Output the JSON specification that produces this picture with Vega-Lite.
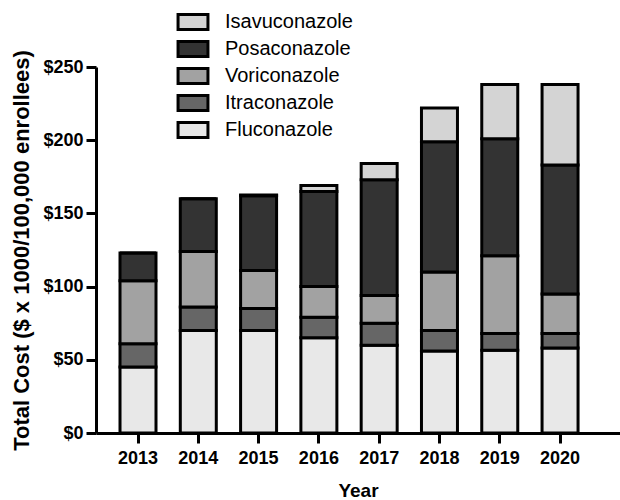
{
  "$schema": "https://vega.github.io/schema/vega-lite/v6.json",
  "autosize": {"type": "none"},
  "width": 524,
  "height": 366,
  "padding": {"left": 96, "top": 67, "right": 0, "bottom": 67},
  "background": "white",
  "config": {
    "view": {"stroke": null},
    "font": "Liberation Sans"
  },
  "datasets": {
    "drugs": [
      {"drug": "Fluconazole", "stackOrder": 1},
      {"drug": "Itraconazole", "stackOrder": 2},
      {"drug": "Voriconazole", "stackOrder": 3},
      {"drug": "Posaconazole", "stackOrder": 4},
      {"drug": "Isavuconazole", "stackOrder": 5}
    ]
  },
  "data": {
    "values": [
      {"year": "2013", "drug": "Fluconazole", "cost": 45},
      {"year": "2013", "drug": "Itraconazole", "cost": 16},
      {"year": "2013", "drug": "Voriconazole", "cost": 43},
      {"year": "2013", "drug": "Posaconazole", "cost": 19},
      {"year": "2013", "drug": "Isavuconazole", "cost": 0},
      {"year": "2014", "drug": "Fluconazole", "cost": 70},
      {"year": "2014", "drug": "Itraconazole", "cost": 16},
      {"year": "2014", "drug": "Voriconazole", "cost": 38},
      {"year": "2014", "drug": "Posaconazole", "cost": 36},
      {"year": "2014", "drug": "Isavuconazole", "cost": 0},
      {"year": "2015", "drug": "Fluconazole", "cost": 70},
      {"year": "2015", "drug": "Itraconazole", "cost": 15},
      {"year": "2015", "drug": "Voriconazole", "cost": 26},
      {"year": "2015", "drug": "Posaconazole", "cost": 51},
      {"year": "2015", "drug": "Isavuconazole", "cost": 0.5},
      {"year": "2016", "drug": "Fluconazole", "cost": 65},
      {"year": "2016", "drug": "Itraconazole", "cost": 14},
      {"year": "2016", "drug": "Voriconazole", "cost": 21},
      {"year": "2016", "drug": "Posaconazole", "cost": 65},
      {"year": "2016", "drug": "Isavuconazole", "cost": 4},
      {"year": "2017", "drug": "Fluconazole", "cost": 60},
      {"year": "2017", "drug": "Itraconazole", "cost": 15},
      {"year": "2017", "drug": "Voriconazole", "cost": 19},
      {"year": "2017", "drug": "Posaconazole", "cost": 79},
      {"year": "2017", "drug": "Isavuconazole", "cost": 11},
      {"year": "2018", "drug": "Fluconazole", "cost": 56},
      {"year": "2018", "drug": "Itraconazole", "cost": 14},
      {"year": "2018", "drug": "Voriconazole", "cost": 40},
      {"year": "2018", "drug": "Posaconazole", "cost": 89},
      {"year": "2018", "drug": "Isavuconazole", "cost": 23},
      {"year": "2019", "drug": "Fluconazole", "cost": 56.5},
      {"year": "2019", "drug": "Itraconazole", "cost": 11.5},
      {"year": "2019", "drug": "Voriconazole", "cost": 53},
      {"year": "2019", "drug": "Posaconazole", "cost": 80},
      {"year": "2019", "drug": "Isavuconazole", "cost": 37},
      {"year": "2020", "drug": "Fluconazole", "cost": 58},
      {"year": "2020", "drug": "Itraconazole", "cost": 10},
      {"year": "2020", "drug": "Voriconazole", "cost": 27},
      {"year": "2020", "drug": "Posaconazole", "cost": 88},
      {"year": "2020", "drug": "Isavuconazole", "cost": 55}
    ]
  },
  "transform": [
    {"lookup": "drug", "from": {"data": {"name": "drugs"}, "key": "drug", "fields": ["stackOrder"]}}
  ],
  "mark": {"type": "bar", "stroke": "black", "strokeWidth": 3, "strokeJoin": "miter"},
  "encoding": {
    "x": {
      "field": "year",
      "type": "ordinal",
      "scale": {"paddingInner": 0.403, "paddingOuter": 0.547, "align": 0.364},
      "axis": {
        "title": "Year",
        "labelAngle": 0,
        "labelFont": "Liberation Sans",
        "labelFontSize": 18,
        "labelFontWeight": "bold",
        "labelColor": "black",
        "labelPadding": 6,
        "titleFont": "Liberation Sans",
        "titleFontSize": 19,
        "titleFontWeight": "bold",
        "titleColor": "black",
        "titlePadding": 14,
        "domainColor": "black",
        "domainWidth": 3,
        "tickColor": "black",
        "tickWidth": 3,
        "tickSize": 10
      }
    },
    "y": {
      "field": "cost",
      "type": "quantitative",
      "stack": "zero",
      "scale": {"domain": [0, 250], "nice": false},
      "axis": {
        "title": "Total Cost ($ x 1000/100,000 enrollees)",
        "values": [0, 50, 100, 150, 200, 250],
        "format": "$.0f",
        "grid": false,
        "labelFont": "Liberation Sans",
        "labelFontSize": 18,
        "labelFontWeight": "bold",
        "labelColor": "black",
        "labelPadding": 3,
        "titleFont": "Liberation Sans",
        "titleFontSize": 22,
        "titleFontWeight": "bold",
        "titleColor": "black",
        "titlePadding": 9,
        "domainColor": "black",
        "domainWidth": 3,
        "tickColor": "black",
        "tickWidth": 3,
        "tickSize": 10
      }
    },
    "order": {"field": "stackOrder", "type": "quantitative", "sort": "ascending"},
    "color": {
      "field": "drug",
      "type": "nominal",
      "scale": {
        "domain": ["Fluconazole", "Itraconazole", "Voriconazole", "Posaconazole", "Isavuconazole"],
        "range": ["#e8e8e8", "#666666", "#a2a2a2", "#333333", "#d4d4d4"]
      },
      "legend": {
        "title": null,
        "orient": "none",
        "legendX": 84,
        "legendY": -58,
        "padding": 0,
        "values": ["Isavuconazole", "Posaconazole", "Voriconazole", "Itraconazole", "Fluconazole"],
        "symbolType": "M-1.3,-0.65H1.3V0.65H-1.3Z",
        "symbolSize": 529,
        "symbolStrokeColor": "black",
        "symbolStrokeWidth": 3,
        "symbolOpacity": 1,
        "rowPadding": -3,
        "labelFont": "Liberation Sans",
        "labelFontSize": 20,
        "labelColor": "black",
        "labelOffset": 19,
        "labelLimit": 300
      }
    }
  }
}
